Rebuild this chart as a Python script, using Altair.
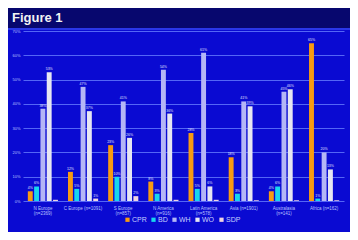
import altair as alt
import pandas as pd

title_text = ["Figure 1"]
regions = ["N Europe", "C Europe", "S Europe", "N America", "Latin America", "Asia", "Australasia", "Africa"]
ns = ["(n=2369)", "(n=1091)", "(n=857)", "(n=916)", "(n=578)", "(n=1901)", "(n=141)", "(n=162)"]
two_line = [True, False, True, True, True, False, True, False]
series = ["CPR", "BD", "WH", "WO", "SDP"]
colors = ["#f79a12", "#18d6ee", "#b4b6f6", "#e6e6f2", "#f0d4e0"]
cpr = [4, 12, 23, 8, 28, 18, 4, 65]
bd = [6, 5, 10, 3, 5, 3, 6, 1]
wh = [38, 47, 41, 54, 61, 41, 45, 20]
wo = [53, 37, 26, 36, 6, 39, 46, 13]
sdp = [0.5, 1, 2, 0.5, 0.5, 0.3, 0.3, 0.3]
y_ticks = [0, 10, 20, 30, 40, 50, 60, 70]

labels = [r + ("|" if t else " ") + n for r, n, t in zip(regions, ns, two_line)]
rows = []
for i, lab in enumerate(labels):
    for s, vals in zip(series, [cpr, bd, wh, wo, sdp]):
        v = vals[i]
        rows.append({"region": lab, "series": s, "value": v,
                     "txt": f"{round(v)}%" if v >= 1 else ""})
df = pd.DataFrame(rows)

xenc = alt.X("region:N", sort=labels, title=None,
             scale=alt.Scale(paddingInner=0.25, paddingOuter=0.12),
             axis=alt.Axis(labelExpr="split(datum.label, '|')", labelAngle=0,
                           labelFontSize=4.5, labelColor="#b8c2ff", labelPadding=4,
                           ticks=False, domain=False, labelFont="Liberation Sans",
                           labelLineHeight=5.5, labelOverlap=False))
yenc = alt.Y("value:Q", title=None,
             scale=alt.Scale(domain=[0, 70], nice=False),
             axis=alt.Axis(values=y_ticks, labelExpr="datum.value + '%'",
                           labelFontSize=4, labelColor="#b8c2ff", labelPadding=3,
                           ticks=False, domain=False, gridColor="#5466f6",
                           gridWidth=1, gridOpacity=1, labelFont="Liberation Sans",
                           labelOverlap=False))
xoff = alt.XOffset("series:N", sort=series, scale=alt.Scale(paddingInner=0.22))

base = alt.Chart(df)
bars = base.mark_bar().encode(
    x=xenc, y=yenc, xOffset=xoff,
    color=alt.Color("series:N", sort=series,
                    scale=alt.Scale(domain=series, range=colors),
                    legend=alt.Legend(title=None, orient="none", direction="horizontal",
                                      legendX=101, legendY=185, symbolType="square",
                                      symbolSize=18, symbolStrokeWidth=0,
                                      labelFontSize=7, labelColor="#c8ceff",
                                      labelFont="Liberation Sans", columnPadding=3,
                                      symbolOffset=0, labelOffset=1)),
)
texts = base.mark_text(fontSize=3.5, color="#e0e4ff", dy=-3, font="Liberation Sans").encode(
    x=xenc, y=yenc, xOffset=xoff, text="txt:N",
)
header = alt.Chart(alt.Data(values=[{}])).mark_rect(color="#07076e").encode(
    x=alt.value(-15), x2=alt.value(327), y=alt.value(-23), y2=alt.value(-3)
)
band = alt.Chart(alt.Data(values=[{}])).mark_rect(color="#2a36e8").encode(
    x=alt.value(-15), x2=alt.value(327), y=alt.value(-3), y2=alt.value(-1)
)
title = alt.Chart(pd.DataFrame({"t": title_text})).mark_text(
    fontSize=13, font="Liberation Sans", fontWeight="bold", color="#f2f2f2",
    align="left", baseline="alphabetic"
).encode(x=alt.value(-11), y=alt.value(-9), text="t:N")

chart = alt.layer(bars, texts, header, band, title).properties(
    width=321, height=170,
    padding={"left": 15, "top": 23, "right": 6, "bottom": 31},
    autosize=alt.AutoSizeParams(type="none"),
    background="#0a0ad2",
).configure_view(stroke=None)

chart.save("out.html", embed_options={"renderer": "svg", "actions": False})
